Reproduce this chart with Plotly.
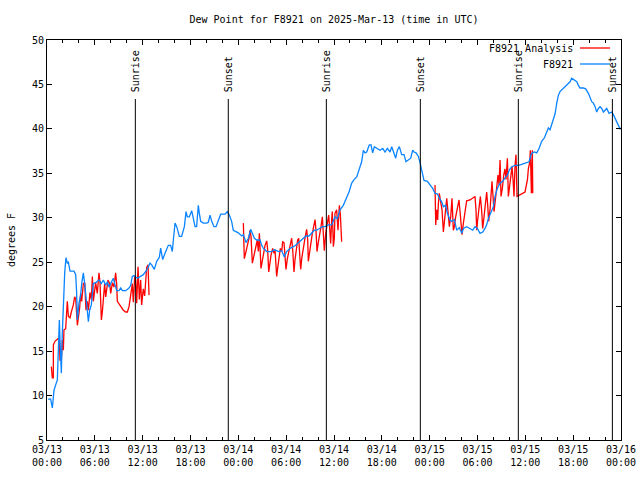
import pandas as pd
import plotly.graph_objects as go

START = pd.Timestamp("2025-03-13 00:00")
END = pd.Timestamp("2025-03-16 00:00")

# ---- Observed dew point, F8921 (hours after 03/13 00:00 UTC, deg F) ----
obs_hours_1 = [0.13, 0.46, 0.67, 0.88, 1.09, 1.30, 1.42, 1.55, 1.63, 1.80, 1.92, 2.05, 2.22, 2.38, 2.55, 2.68, 2.89,
               3.39, 3.60, 3.72, 3.81, 4.01, 4.22, 4.35, 4.56, 4.73, 4.89, 5.06, 5.19, 5.35, 5.56, 5.81, 6.10, 6.52,
               6.82, 7.07, 7.36, 7.57, 7.78, 7.99, 8.32, 8.49, 8.74, 9.03, 9.24, 9.45, 9.87, 10.29, 10.50, 10.70,
               10.91, 11.33, 11.75, 12.08]
obs_dewpt_1 = [9.6, 9.6, 8.6, 10.6, 11.2, 11.75, 15.1, 18.5, 16.25, 12.5, 17.0, 21.1, 23.8, 25.5, 24.9, 25.0, 24.0,
               24.0, 23.6, 21.5, 18.5, 20.4, 21.3, 22.6, 23.8, 22.6, 21.1, 19.4, 18.3, 19.6, 20.2, 22.6, 22.7, 23.0,
               22.6, 23.0, 22.4, 22.8, 22.2, 22.6, 23.2, 22.6, 21.8, 21.8, 22.1, 21.8, 21.8, 22.1, 22.4, 23.4,
               23.5, 23.2, 23.4, 23.6]
obs_hours_2 = [12.50, 12.92, 13.13, 13.46, 13.76, 14.09, 14.26, 14.51, 14.80, 15.22, 15.51, 15.72, 15.85, 16.06,
               16.27, 16.60, 16.89, 17.23, 17.44, 17.60, 17.85, 18.15, 18.27, 18.57, 18.77, 18.98, 19.11, 19.28,
               19.61, 20.03, 20.24, 20.45, 20.66, 20.95, 21.20, 21.49, 21.79, 22.33, 22.62, 22.87, 23.16, 23.37,
               23.79]
obs_dewpt_2 = [24.1, 24.9, 24.7, 24.2, 25.1, 25.55, 26.6, 25.3, 26.0, 26.9, 26.9, 26.2, 27.5, 29.4,
               29.0, 27.9, 27.9, 29.0, 30.7, 30.1, 30.1, 30.8, 30.3, 29.0, 29.0, 31.4, 30.5, 29.6,
               29.4, 29.4, 29.5, 30.3, 29.6, 29.0, 29.0, 29.7, 30.4, 30.4, 30.7, 30.3, 29.6, 28.6,
               28.4]
obs_hours_3 = [24.00, 24.42, 24.63, 24.96, 25.26, 25.55, 25.76, 26.01, 26.30, 26.72, 26.93, 27.14, 27.35, 27.56,
               28.18, 28.52, 28.81, 29.02, 29.44, 29.77, 30.06, 30.48, 30.90, 31.19, 31.53, 31.95, 32.24, 32.49,
               32.87, 33.20, 33.53, 33.83, 34.25, 34.54, 34.87, 35.29, 35.71]
obs_dewpt_3 = [28.3, 27.95, 28.1, 27.2, 27.7, 28.7, 28.25, 27.7, 27.5, 27.5, 26.9, 26.55, 26.4, 26.2,
               26.2, 26.4, 26.3, 26.2, 26.3, 25.6, 26.2, 26.55, 26.75, 26.9, 27.2, 27.5, 27.7, 27.95,
               27.95, 28.25, 28.6, 28.6, 28.8, 29.0, 29.0, 29.2, 29.2]
obs_hours_4 = [36.13, 36.42, 36.75, 37.17, 37.59, 37.88, 38.22, 38.51, 38.85, 39.18, 39.47, 39.68, 39.89, 40.10,
               40.43, 40.64, 40.85, 41.06, 41.35, 41.77, 42.11, 42.40, 42.69, 43.03, 43.24, 43.53, 43.74, 43.95,
               44.20, 44.49, 44.78, 45.03, 45.33, 45.62, 45.87, 46.04, 46.29, 46.58, 46.79, 47.00]
obs_dewpt_4 = [30.1, 29.9, 30.9, 31.4, 32.2, 32.9, 33.9, 34.3, 34.6, 35.4, 36.3, 37.6, 37.3, 37.4,
               38.2, 38.2, 37.3, 38.0, 37.8, 37.6, 37.8, 37.4, 37.8, 37.4, 38.0, 37.3, 36.7, 37.6,
               38.0, 37.1, 37.1, 36.3, 36.5, 36.7, 37.6, 37.4, 37.3, 36.9, 36.2, 35.2]
obs_hours_5 = [47.29, 47.71, 48.04, 48.38, 48.67, 48.96, 49.22, 49.51, 49.72, 50.01, 50.22, 50.55, 50.76, 51.10,
               51.39, 51.72, 52.02, 52.23, 52.64, 53.06, 53.40, 53.69, 53.98, 54.32, 54.65, 54.94, 55.15, 55.36,
               55.65, 55.99, 56.20, 56.49, 56.83, 57.16, 57.45, 57.75, 58.00, 58.29, 58.71, 59.13, 59.54, 59.96]
obs_dewpt_5 = [34.2, 34.1, 33.7, 33.3, 32.75, 32.7, 32.2, 31.8, 31.25, 31.4, 30.5, 29.75, 29.6, 29.8,
               28.6, 28.9, 28.25, 28.8, 29.0, 28.8, 28.6, 29.0, 28.8, 28.25, 28.4, 28.8, 29.2, 29.9,
               30.5, 31.25, 32.4, 33.3, 33.9, 34.1, 34.5, 34.8, 35.4, 35.75, 35.9, 35.9, 36.0, 36.1]
obs_hours_6 = [60.47, 60.72, 60.88, 61.13, 61.43, 61.72, 62.05, 62.39, 62.68, 62.89, 63.10, 63.31, 63.52, 63.73,
               63.94, 64.15, 64.35, 64.56, 64.77, 64.98, 65.19, 65.40, 65.61, 65.82, 66.11, 66.45, 66.65, 66.86,
               67.28, 67.57, 67.91, 68.12, 68.33, 68.54, 68.75, 68.95, 69.16, 69.37, 69.58, 69.79, 70.00, 70.21,
               70.50, 70.84, 71.04, 71.34, 71.59, 71.76, 71.88, 72.00]
obs_dewpt_6 = [36.3, 37.1, 37.3, 37.4, 37.3, 37.8, 38.6, 39.0, 39.7, 40.1, 39.9, 40.6, 41.2, 41.7,
               42.9, 43.8, 44.2, 44.4, 44.6, 44.8, 44.9, 45.1, 45.3, 45.7, 45.5, 45.3, 44.9, 44.6,
               44.6, 44.5, 44.0, 43.6, 43.06, 42.9, 42.5, 41.9, 42.3, 42.5, 42.3, 41.9, 42.1, 42.3,
               41.75, 41.9, 41.6, 41.0, 40.6, 40.25, 40.0, 40.1]

# ---- Analysis dew point, three runs ----
ana_hours_1 = [0.54, 0.67, 0.79, 0.80, 1.00, 1.21, 1.38, 1.55, 1.63, 1.80, 1.92, 2.05, 2.13, 2.34, 2.47, 2.55, 2.68,
               2.89, 3.05, 3.30, 3.47, 3.60, 3.81, 3.93, 4.10, 4.22, 4.35, 4.56, 4.73, 4.89, 5.06, 5.19, 5.39, 5.56,
               5.69, 5.81, 5.98, 6.10, 6.31, 6.52, 6.65, 6.82, 6.94, 7.07, 7.23, 7.36, 7.49, 7.65, 7.86, 7.99, 8.20,
               8.40, 8.61, 8.74, 8.82, 9.24, 9.58, 9.87, 10.08, 10.29, 10.50, 10.70, 10.83, 11.00, 11.12, 11.25,
               11.42, 11.58, 11.75, 11.87, 12.08, 12.25, 12.50, 12.67, 12.80]
ana_dewpt_1 = [13.25, 12.0, 12.0, 15.7, 16.1, 16.25, 16.4, 16.4, 14.0, 14.0, 16.25, 15.1, 17.4, 17.5, 19.6, 20.6, 18.9,
               18.75, 19.4, 20.2, 21.1, 20.9, 17.9, 18.75, 19.9, 21.5, 20.6, 22.6, 22.7, 19.6, 20.6, 19.6, 21.6, 20.8,
               23.4, 20.6, 21.8, 22.7, 21.5, 23.8, 22.7, 18.5, 19.4, 21.1, 22.6, 21.1, 22.2, 23.0, 22.6, 21.5, 22.7,
               22.2, 23.8, 22.6, 20.6, 20.0, 19.6, 19.4, 19.4, 20.0, 21.5, 22.6, 20.5, 23.4, 23.0, 20.4,
               24.5, 20.8, 23.0, 20.2, 22.0, 21.2, 24.4, 24.7, 21.3]
ana_hours_2 = [24.63, 24.75, 24.96, 25.13, 25.34, 25.46, 25.59, 25.76, 25.88, 26.01, 26.18, 26.38, 26.51, 26.64,
               26.84, 27.01, 27.18, 27.35, 27.56, 27.68, 27.81, 27.93, 28.10, 28.31, 28.48, 28.60, 28.68, 28.81,
               28.94, 29.10, 29.27, 29.44, 29.56, 29.73, 29.85, 29.98, 30.15, 30.36, 30.52, 30.69, 30.82, 30.98,
               31.11, 31.28, 31.44, 31.57, 31.65, 31.82, 31.95, 32.16, 32.36, 32.57, 32.70, 32.78, 32.91, 33.08,
               33.28, 33.45, 33.62, 33.74, 33.87, 34.04, 34.25, 34.37, 34.54, 34.66, 34.79, 34.96, 35.17, 35.33,
               35.46, 35.58, 35.71, 35.79, 35.92, 36.04, 36.12, 36.33, 36.50, 36.67, 36.80, 36.96]
ana_dewpt_2 = [29.4, 25.4, 26.2, 26.75, 27.7, 28.6, 27.9, 24.9, 25.4, 26.2, 26.9, 27.5, 26.2, 28.25,
               24.3, 25.3, 26.4, 26.9, 27.4, 26.4, 23.9, 24.9, 25.8, 26.55, 26.0, 26.4, 25.1, 23.4,
               24.4, 25.6, 26.55, 26.2, 27.3, 27.2, 25.1, 24.2, 25.4, 26.4, 27.3, 27.7, 26.4, 23.9,
               25.3, 26.4, 27.5, 27.7, 26.75, 24.2, 25.4, 26.75, 27.7, 28.7, 27.5, 25.1, 26.0, 27.1,
               28.25, 29.0, 29.8, 28.6, 26.2, 27.3, 28.25, 29.0, 30.1, 28.6, 26.3, 28.25, 29.2, 30.3,
               28.8, 27.1, 29.8, 30.7, 26.75, 27.7, 30.5, 30.9, 28.6, 31.4, 30.3, 27.3]
ana_hours_3 = [48.67, 48.76, 48.88, 49.00, 49.09, 49.21, 49.38, 49.55, 49.72, 49.84, 49.97, 50.14, 50.30, 50.47,
               50.64, 50.80, 50.97, 51.10, 51.26, 51.47, 51.68, 51.81, 51.93, 52.06, 52.23, 52.39, 52.52, 52.64,
               53.06, 53.40, 53.69, 53.81, 53.90, 54.02, 54.19, 54.36, 54.53, 54.65, 54.82, 54.99, 55.15, 55.28,
               55.40, 55.57, 55.70, 55.82, 55.95, 56.07, 56.24, 56.41, 56.57, 56.70, 56.83, 56.95, 57.12, 57.29,
               57.45, 57.58, 57.75, 57.87, 58.04, 58.20, 58.33, 58.46, 58.58, 58.71, 58.83, 58.96, 59.13, 59.55,
               59.96, 60.26, 60.38, 60.55, 60.63, 60.76, 60.88, 60.93]
ana_dewpt_3 = [33.7, 29.2, 30.9, 29.75, 31.6, 32.75, 31.8, 30.9, 28.4, 29.75, 31.25, 32.2, 30.7, 29.0,
               30.1, 32.2, 28.6, 29.0, 30.1, 30.9, 32.0, 30.7, 28.8, 28.1, 29.4, 30.5, 31.4, 31.9,
               32.0, 32.2, 32.4, 30.9, 28.6, 29.75, 31.25, 32.4, 30.7, 28.8, 30.1, 31.6, 32.9, 31.4,
               29.6, 30.9, 32.9, 34.1, 32.4, 30.7, 32.0, 33.5, 34.8, 33.7, 36.5, 32.4, 33.3, 34.8,
               35.5, 34.3, 36.7, 32.4, 33.5, 35.0, 35.75, 34.3, 32.4, 35.9, 37.1, 32.4, 32.5, 32.75,
               32.9, 34.25, 35.5, 36.25, 37.6, 32.75, 37.6, 32.75]

# ---- Sun events (hours after start) ----
sun_event_hours = [11.08, 22.74, 35.04, 46.83, 59.12, 70.92]
sun_event_names = ["Sunrise", "Sunset", "Sunrise", "Sunset", "Sunrise", "Sunset"]

y_tick_values = list(range(5, 51, 5))

TITLE = "Dew Point for F8921 on 2025-Mar-13 (time in UTC)"
FONT = "DejaVu Sans Mono"
RED = "#ff0000"
BLUE = "#0a84ff"


def to_time(hours):
    return [None if h is None else START + pd.Timedelta(hours=h) for h in hours]


obs_hours = obs_hours_1 + obs_hours_2 + obs_hours_3 + obs_hours_4 + obs_hours_5 + obs_hours_6
obs_dewpt = obs_dewpt_1 + obs_dewpt_2 + obs_dewpt_3 + obs_dewpt_4 + obs_dewpt_5 + obs_dewpt_6
assert len(obs_hours) == len(obs_dewpt)

ana_hours, ana_dewpt = [], []
for hh, vv in [(ana_hours_1, ana_dewpt_1), (ana_hours_2, ana_dewpt_2), (ana_hours_3, ana_dewpt_3)]:
    assert len(hh) == len(vv), (len(hh), len(vv))
    if ana_hours:
        ana_hours.append(None)
        ana_dewpt.append(None)
    ana_hours += hh
    ana_dewpt += vv

fig = go.Figure()
fig.add_trace(go.Scatter(x=to_time(ana_hours), y=ana_dewpt, mode="lines", name="F8921 Analysis",
                         line=dict(color=RED, width=1.3), connectgaps=False, showlegend=False))
fig.add_trace(go.Scatter(x=to_time(obs_hours), y=obs_dewpt, mode="lines", name="F8921",
                         line=dict(color=BLUE, width=1.3), showlegend=False))

for h, name in zip(sun_event_hours, sun_event_names):
    t = START + pd.Timedelta(hours=h)
    fig.add_shape(type="line", xref="x", yref="paper", x0=t, x1=t, y0=0, y1=0.8525,
                  line=dict(color="black", width=1))
    fig.add_annotation(x=t, xref="x", y=0.865, yref="paper", text=name, textangle=-90,
                       showarrow=False, xanchor="center", yanchor="bottom",
                       font=dict(family=FONT, size=10, color="black"))

# gnuplot-style key, top right
for i, (label, color) in enumerate([("F8921 Analysis", RED), ("F8921", BLUE)]):
    yk = 0.98 - i * 0.04
    fig.add_annotation(x=0.92, xref="paper", y=yk, yref="paper", text=label, showarrow=False,
                       xanchor="right", yanchor="middle", font=dict(family=FONT, size=10, color="black"))
    fig.add_shape(type="line", xref="paper", yref="paper", x0=0.9286, x1=0.9808, y0=yk, y1=yk,
                  line=dict(color=color, width=1.3))

fig.update_layout(
    width=640, height=480,
    margin=dict(l=47, r=19, t=40, b=40, autoexpand=False),
    paper_bgcolor="white", plot_bgcolor="white",
    font=dict(family=FONT, size=10, color="black"),
    title=dict(text=TITLE, x=(47 + 621) / 2 / 640, xanchor="center", y=1 - 19 / 480, yanchor="middle",
               yref="container", font=dict(family=FONT, size=10, color="black")),
    showlegend=False,
)
fig.update_xaxes(
    type="date", range=[START, END], automargin=False,
    tick0=START, dtick=6 * 3600 * 1000, tickformat="%m/%d<br>%H:%M",
    ticks="inside", ticklen=5, tickcolor="black", tickwidth=1,
    minor=dict(dtick=2 * 3600 * 1000, ticks="inside", ticklen=3, tickcolor="black", tickwidth=1),
    showline=True, linecolor="black", linewidth=1, mirror="ticks",
    showgrid=False, zeroline=False,
    tickfont=dict(family=FONT, size=10, color="black"),
)
fig.update_yaxes(
    range=[5, 50], tickvals=y_tick_values, automargin=False,
    ticks="inside", ticklen=5, tickcolor="black", tickwidth=1,
    showline=True, linecolor="black", linewidth=1, mirror="ticks",
    showgrid=False, zeroline=False,
    tickfont=dict(family=FONT, size=10, color="black"),
    title=dict(text="degrees F", standoff=14, font=dict(family=FONT, size=10, color="black")),
)

fig.write_html("out.html", config={"displayModeBar": False},
               post_script="document.body.style.margin='0';document.body.style.overflow='hidden';")
